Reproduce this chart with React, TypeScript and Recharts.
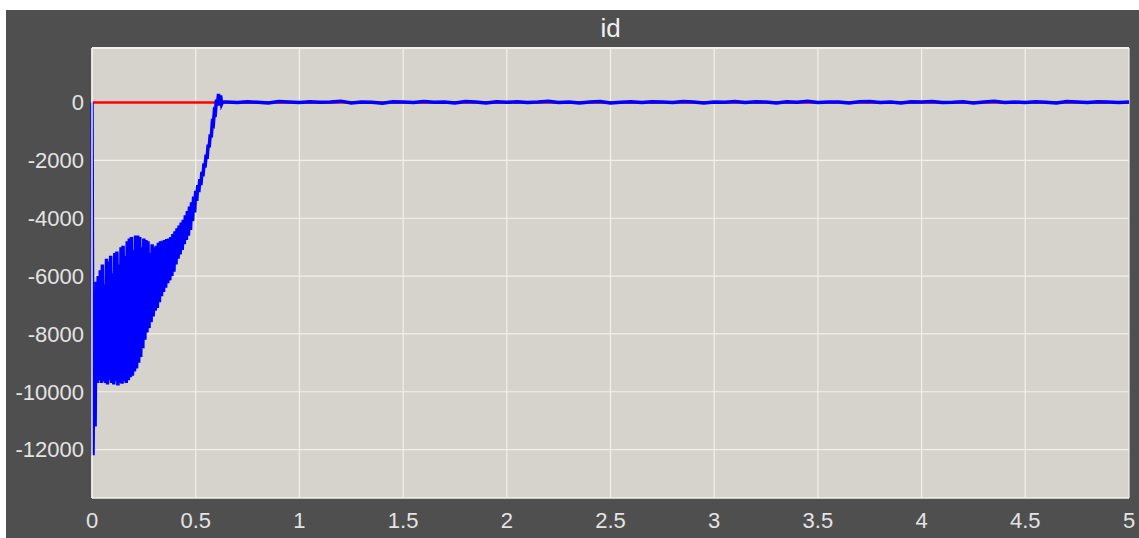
import React from "react";
import {
  LineChart,
  Line,
  XAxis,
  YAxis,
  CartesianGrid,
  ReferenceLine,
} from "recharts";

// simulation output, id current (A)
const transientStep = 0.005;
const transientId = [
  0, -12200, -7000, -11200, -6200, -9700, -6000, -9600, -5800, -9700,
  -5600, -9650, -6300, -9700, -5400, -9750, -5500, -9600, -5300, -9700,
  -5900, -9750, -5200, -9650, -5150, -9780, -5600, -9700, -5000, -9720,
  -4950, -9650, -5300, -9700, -4800, -9600, -4700, -9500, -4650, -9450,
  -5100, -9300, -4600, -9200, -4600, -9000, -4650, -8800, -5000, -8500,
  -4700, -8200, -4750, -7950, -4800, -7800, -5200, -7600, -4900, -7400,
  -5000, -7200, -4950, -7100, -4850, -6900, -4800, -6700, -4780, -6550,
  -4750, -6400, -4720, -6250, -4700, -6150, -4650, -6000, -4550, -5850,
  -4450, -5600, -4350, -5400, -4250, -5250, -4150, -5100, -4050, -4900,
  -3900, -4750, -3750, -4600, -3600, -4400, -3450, -4100, -3250, -3800,
  -3050, -3400, -2850, -3100, -2650, -2850, -2400, -2550, -2100, -2250,
  -1800, -1950, -1450, -1550, -1100, -1200, -700, -750, -300, -350,
  100, -50, 300, -100, 250, -50, 30,
];

const steadyStart = 0.65;
const steadyStep = 0.05;
const steadyId = [
  20, 0, 30, 10, -10, 40, 20, 0, 30, 10,
  20, 50, -10, 20, 10, -20, 30, 20, 0, 40,
  10, 20, -10, 40, 20, -10, 30, 10, 30, 0,
  20, 50, 0, 20, -10, 20, 40, -10, 10, 30,
  0, 30, 20, 0, 40, 20, -10, 20, 10, 40,
  0, 30, 20, -10, 30, 10, 50, 0, 20, 20,
  -10, 30, 40, 0, 20, -10, 30, 20, 40, 0,
  10, 30, -10, 20, 50, 0, 20, 0, 30, 10,
  -10, 40, 20, 0, 30, 20, 0, 20,
];

const refTime = [0, 5];
const refId = [0, 0];

const xTicks = [0, 0.5, 1, 1.5, 2, 2.5, 3, 3.5, 4, 4.5, 5];
const yTicks = [-12000, -10000, -8000, -6000, -4000, -2000, 0];
const Y_MIN = -13675;
const Y_MAX = 1888;

const blueData = [
  ...transientId.map((v, i) => ({ t: +(i * transientStep).toFixed(4), id: v })),
  ...steadyId.map((v, i) => ({ t: +(steadyStart + i * steadyStep).toFixed(4), id: v })),
];
const redData = refTime.map((t, i) => ({ t, id: refId[i] }));

const font = "'Liberation Sans', Arial, sans-serif";
const tickStyle = { fill: "#e4e4e4", fontSize: 22, fontFamily: font };

export default function App() {
  return (
    <div
      style={{
        position: "absolute",
        left: 0,
        top: 0,
        width: 1139,
        height: 538,
        background: "#ffffff",
        overflow: "hidden",
      }}
    >
      <div
        style={{
          position: "absolute",
          left: 6,
          top: 10,
          width: 1133,
          height: 528,
          background: "#4f4f4f",
        }}
      />
      <div
        style={{
          position: "absolute",
          left: 92,
          top: 15,
          width: 1037,
          textAlign: "center",
          color: "#f0f0f0",
          fontSize: 26,
          lineHeight: "26px",
          fontFamily: font,
        }}
      >
        id
      </div>
      <div style={{ position: "absolute", left: 0, top: 0 }}>
        <LineChart
          width={1139}
          height={538}
          margin={{ top: 48, right: 10, bottom: 0, left: 0 }}
        >
          <CartesianGrid
            fill="#d6d3cc"
            stroke="#f2f0ec"
            strokeWidth={1.2}
            horizontalValues={yTicks}
            verticalValues={xTicks}
          />
          <XAxis
            type="number"
            dataKey="t"
            domain={[0, 5]}
            ticks={xTicks}
            height={40}
            tickSize={0}
            tickMargin={14}
            axisLine={{ stroke: "#f2f0ec", strokeWidth: 1.5 }}
            tick={tickStyle}
            allowDuplicatedCategory={false}
          />
          <YAxis
            type="number"
            domain={[Y_MIN, Y_MAX]}
            ticks={yTicks}
            width={92}
            tickSize={0}
            tickMargin={8}
            axisLine={{ stroke: "#f2f0ec", strokeWidth: 1.5 }}
            tick={tickStyle}
            allowDataOverflow
          />
          <ReferenceLine y={Y_MAX} stroke="#f2f0ec" strokeWidth={2} />
          <Line
            data={redData}
            dataKey="id"
            type="linear"
            stroke="#ff0000"
            strokeWidth={2.5}
            dot={false}
            isAnimationActive={false}
          />
          <Line
            data={blueData}
            dataKey="id"
            type="linear"
            stroke="#0000ff"
            strokeWidth={3.5}
            dot={false}
            isAnimationActive={false}
          />
        </LineChart>
      </div>
    </div>
  );
}
